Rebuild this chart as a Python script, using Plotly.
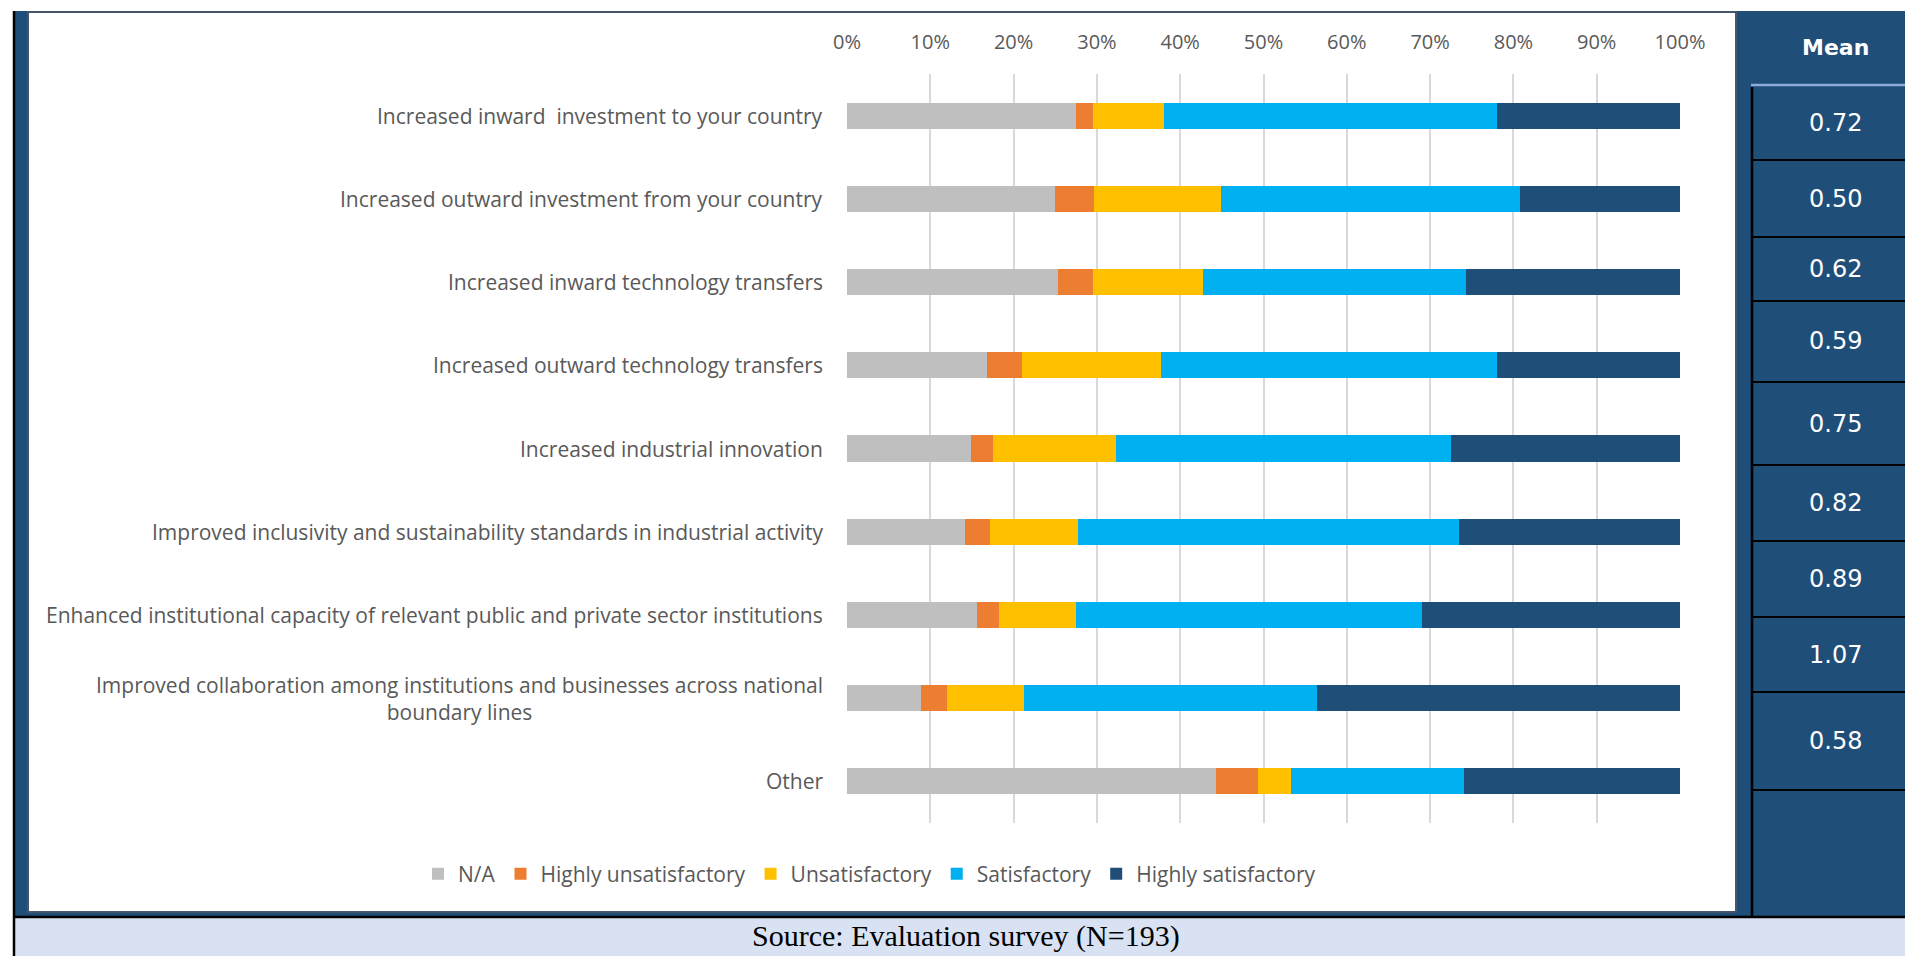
import plotly.graph_objects as go

# ---- data -------------------------------------------------------------
categories = [
    "Increased inward\u00a0 investment to your country",
    "Increased outward investment from your country",
    "Increased inward technology transfers",
    "Increased outward technology transfers",
    "Increased industrial innovation",
    "Improved inclusivity and sustainability standards in industrial activity",
    "Enhanced institutional capacity of relevant public and private sector institutions",
    "Improved collaboration among institutions and businesses across national<br>boundary lines",
    "Other",
]

na_pct = [27.5, 25.0, 25.3, 16.8, 14.9, 14.2, 15.6, 8.9, 44.3]
highly_unsat_pct = [2.0, 4.7, 4.2, 4.2, 2.6, 3.0, 2.6, 3.1, 5.0]
unsat_pct = [8.5, 15.2, 13.2, 16.7, 14.8, 10.5, 9.3, 9.3, 4.0]
sat_pct = [40.0, 35.9, 31.6, 40.3, 40.2, 45.8, 41.5, 35.1, 20.8]
highly_sat_pct = [22.0, 19.2, 25.7, 22.0, 27.5, 26.5, 31.0, 43.6, 25.9]

mean_scores = ["0.72", "0.50", "0.62", "0.59", "0.75", "0.82", "0.89", "1.07", "0.58"]

x_ticks = list(range(0, 101, 10))
x_tick_labels = [f"{v}%" for v in x_ticks]

series_names = ["N/A", "Highly unsatisfactory", "Unsatisfactory", "Satisfactory", "Highly satisfactory"]
series_values = [na_pct, highly_unsat_pct, unsat_pct, sat_pct, highly_sat_pct]
series_colors = ["#BFBFBF", "#ED7D31", "#FFC000", "#00B0F0", "#1F4E79"]

source_text = "Source: Evaluation survey (N=193)"

# ---- page geometry (pixels) -------------------------------------------
W, H = 1905, 956
PLOT_L, PLOT_R, PLOT_T, PLOT_B = 847, 1680, 74, 823

NAVY = "#1F4E79"
TEXT_GREY = "#595959"
LABEL_FONT = "Open Sans, Lato, sans-serif"


def px_x(x):
    return (x - PLOT_L) / (PLOT_R - PLOT_L)


def px_y(y):
    return (PLOT_B - y) / (PLOT_B - PLOT_T)


fig = go.Figure()

for name, vals, color in zip(series_names, series_values, series_colors):
    fig.add_trace(
        go.Bar(
            name=name,
            y=categories,
            x=vals,
            orientation="h",
            marker=dict(color=color, line=dict(width=0)),
        )
    )

shapes = []


def rect(x0, y0, x1, y1, fill, line_color=None, line_width=0, layer="below"):
    shapes.append(
        dict(
            type="rect", xref="paper", yref="paper",
            x0=px_x(x0), x1=px_x(x1), y0=px_y(y1), y1=px_y(y0),
            fillcolor=fill,
            line=dict(color=line_color or fill, width=line_width),
            layer=layer,
        )
    )


def hline(x0, x1, y, color, width):
    shapes.append(
        dict(type="line", xref="paper", yref="paper",
             x0=px_x(x0), x1=px_x(x1), y0=px_y(y), y1=px_y(y),
             line=dict(color=color, width=width), layer="below")
    )


def vline(x, y0, y1, color, width):
    shapes.append(
        dict(type="line", xref="paper", yref="paper",
             x0=px_x(x), x1=px_x(x), y0=px_y(y0), y1=px_y(y1),
             line=dict(color=color, width=width), layer="below")
    )


# navy frame behind everything
rect(15, 11, W + 2, 916, NAVY)
# source band
rect(15, 918, W + 2, H + 2, "#D9E2F3")
# white chart panel with thin slate border
rect(28, 12, 1736, 912, "white", "#46556B", 2)
# black rules
vline(14, 11, H + 2, "black", 2.5)
hline(13, W + 2, 917, "black", 2.5)

# mean table rules
table_x0 = 1752
row_edges = [86, 160, 237, 301, 382, 465, 541, 617, 692, 790]
hline(1751, W + 2, 85, "#8FAADC", 2.5)
vline(table_x0, 87, 916, "black", 2.5)
for y in row_edges[1:]:
    hline(table_x0, W + 2, y, "black", 2)

annotations = []

# category labels, centred block aligned to the right of the axis gap
for cat in categories:
    annotations.append(
        dict(
            xref="paper", yref="y", x=0, y=cat, xshift=-22,
            xanchor="right", yanchor="middle", align="center",
            text=cat, showarrow=False,
            font=dict(family=LABEL_FONT, size=21, color=TEXT_GREY),
        )
    )

# mean column
TABLE_CX = 1835
annotations.append(
    dict(xref="paper", yref="paper", x=px_x(TABLE_CX), y=px_y(47),
         xanchor="center", yanchor="middle", text="<b>Mean</b>", showarrow=False,
         font=dict(family="DejaVu Sans, Verdana, sans-serif", size=22, color="white"))
)
for val, top, bot in zip(mean_scores, row_edges[:-1], row_edges[1:]):
    annotations.append(
        dict(xref="paper", yref="paper", x=px_x(TABLE_CX), y=px_y((top + bot) / 2),
             xanchor="center", yanchor="middle", text=val, showarrow=False,
             font=dict(family="DejaVu Sans, Verdana, sans-serif", size=24, color="white"))
    )

# source line
annotations.append(
    dict(xref="paper", yref="paper", x=px_x(966), y=px_y(936),
         xanchor="center", yanchor="middle", text=source_text, showarrow=False,
         font=dict(family="Liberation Serif, DejaVu Serif, serif", size=30, color="black"))
)

fig.update_layout(
    width=W,
    height=H,
    autosize=False,
    margin=dict(l=PLOT_L, r=W - PLOT_R, t=PLOT_T, b=H - PLOT_B, pad=0),
    paper_bgcolor="white",
    plot_bgcolor="rgba(0,0,0,0)",
    barmode="stack",
    bargap=0.687,
    showlegend=True,
    legend=dict(
        orientation="h",
        x=px_x(418), xanchor="left",
        y=px_y(874), yanchor="middle",
        bgcolor="rgba(0,0,0,0)",
        font=dict(family=LABEL_FONT, size=21, color=TEXT_GREY),
        itemwidth=30,
        traceorder="normal",
    ),
    xaxis=dict(
        side="top",
        range=[0, 100],
        tickvals=x_ticks,
        ticktext=x_tick_labels,
        ticks="",
        ticklabelstandoff=20,
        showgrid=True,
        gridcolor="#D9D9D9",
        gridwidth=1.5,
        zeroline=False,
        showline=False,
        tickfont=dict(family=LABEL_FONT, size=20, color=TEXT_GREY),
        fixedrange=True,
    ),
    yaxis=dict(
        categoryorder="array",
        categoryarray=categories,
        autorange="reversed",
        showticklabels=False,
        ticks="",
        showgrid=False,
        zeroline=False,
        showline=False,
        fixedrange=True,
    ),
    shapes=shapes,
    annotations=annotations,
)

fig.write_html("out.html", config={"displayModeBar": False})
